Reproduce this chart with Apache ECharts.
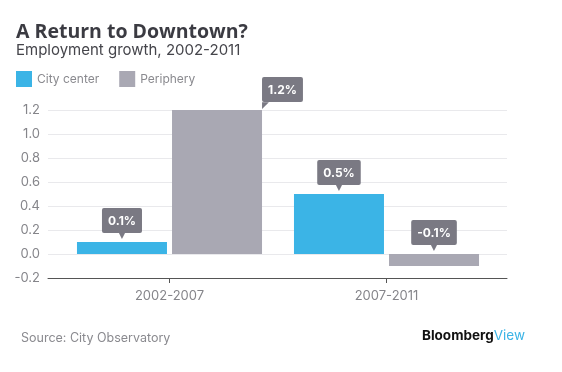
<!DOCTYPE html>
<html>
<head>
<meta charset="utf-8">
<script src="https://cdn.jsdelivr.net/npm/echarts@6/dist/echarts.min.js"></script>
<style>html,body{margin:0;padding:0;background:#fff;}#c{width:562px;height:372px;}</style>
</head>
<body>
<div id="c"></div>
<script>
const categories = ['2002-2007', '2007-2011'];
const seriesNames = ['City center', 'Periphery'];
const cityCenter = [0.1, 0.5];
const periphery = [1.2, -0.1];
const yTicks = [-0.2, 0.0, 0.2, 0.4, 0.6, 0.8, 1.0, 1.2];

const BLUE = '#3bb4e6';
const GREY = '#a9a8b3';
const BOX = '#7a7983';
const FONT = 'Inter';

const chart = echarts.init(document.getElementById('c'), null, {renderer: 'canvas'});

const richStyle = {
  box: {backgroundColor: BOX, color: '#fff', fontWeight: 'bold', fontSize: 12, fontFamily: FONT,
        padding: [7, 6, 6, 6], borderRadius: 2},
  arr: {color: BOX, fontSize: 9, lineHeight: 6, fontFamily: 'DejaVu Sans'},
  corner: {color: BOX, fontSize: 9, lineHeight: 7, fontFamily: 'DejaVu Sans', align: 'left'}
};
const fmt = v => v.toFixed(1) + '%';
const stdLabel = {
  show: true, position: 'top', distance: 3,
  formatter: p => '{box|' + fmt(p.value) + '}\n{arr|▼}',
  rich: richStyle
};
const cornerLabel = {
  show: true, position: [90, -33], align: 'left', verticalAlign: 'top',
  formatter: p => '{box|' + fmt(p.value) + '}\n{corner|◤}',
  rich: richStyle
};

function makeData(arr) {
  return arr.map(v => (v === Math.max(...cityCenter, ...periphery)) ? {value: v, label: cornerLabel} : {value: v});
}

const gridTop = 110, gridBottom = 372 - 278;

chart.setOption({
  animation: false,
  textStyle: {fontFamily: FONT},
  title: [
    {text: 'A Return to Downtown?', left: 11, top: 17,
     textStyle: {fontSize: 19.5, fontWeight: 'bold', color: '#3b3b42', fontFamily: 'Open Sans'}},
    {text: 'Employment growth, 2002-2011', left: 11, top: 38,
     textStyle: {fontSize: 15, fontWeight: 'normal', color: '#45454b', fontFamily: FONT}},
    {text: 'Source: City Observatory', left: 16, top: 327,
     textStyle: {fontSize: 12.5, fontWeight: 'normal', color: '#8a8a8f', fontFamily: FONT}},
    {text: '{b|Bloomberg}{v|View}', left: 417, top: 324,
     textStyle: {rich: {
       b: {fontSize: 13.5, fontWeight: 'bold', color: '#111', fontFamily: FONT},
       v: {fontSize: 13.5, fontWeight: 'normal', color: BLUE, fontFamily: FONT}
     }}}
  ],
  legend: {
    left: 11, top: 66, itemWidth: 16, itemHeight: 16, itemGap: 20, icon: 'rect',
    data: seriesNames,
    textStyle: {fontSize: 12, color: '#8a8a8f', fontFamily: FONT}
  },
  grid: [
    {left: 48, right: 562 - 507, top: gridTop, bottom: gridBottom},
    {left: 61, right: 562 - 495, top: gridTop, bottom: gridBottom}
  ],
  xAxis: [
    {type: 'value', gridIndex: 0, min: 0, max: 1,
     axisLine: {show: true, onZero: false, lineStyle: {color: '#555', width: 1}},
     axisTick: {show: false}, axisLabel: {show: false}, splitLine: {show: false}},
    {type: 'category', gridIndex: 1, data: categories,
     axisLine: {show: false, onZero: false},
     axisTick: {show: true, alignWithLabel: true, length: 5, lineStyle: {color: '#555'}},
     axisLabel: {fontSize: 13, color: '#85858a', margin: 12, fontFamily: FONT}}
  ],
  yAxis: [
    {type: 'value', gridIndex: 0, min: yTicks[0], max: yTicks[yTicks.length - 1], interval: 0.2,
     axisLine: {show: false}, axisTick: {show: false},
     axisLabel: {fontSize: 13, color: '#85858a', margin: 8, fontFamily: FONT,
                 formatter: v => v.toFixed(1)},
     splitLine: {show: true, lineStyle: {color: '#e9e9ec', width: 1}}},
    {type: 'value', gridIndex: 1, min: yTicks[0], max: yTicks[yTicks.length - 1], interval: 0.2,
     show: false, splitLine: {show: false}}
  ],
  series: [
    {name: seriesNames[0], type: 'bar', xAxisIndex: 1, yAxisIndex: 1,
     data: makeData(cityCenter), barWidth: 90, barGap: '5.6%',
     itemStyle: {color: BLUE}, label: stdLabel},
    {name: seriesNames[1], type: 'bar', xAxisIndex: 1, yAxisIndex: 1,
     data: makeData(periphery), barWidth: 90, barGap: '5.6%',
     itemStyle: {color: GREY}, label: stdLabel}
  ]
});
</script>
</body>
</html>
